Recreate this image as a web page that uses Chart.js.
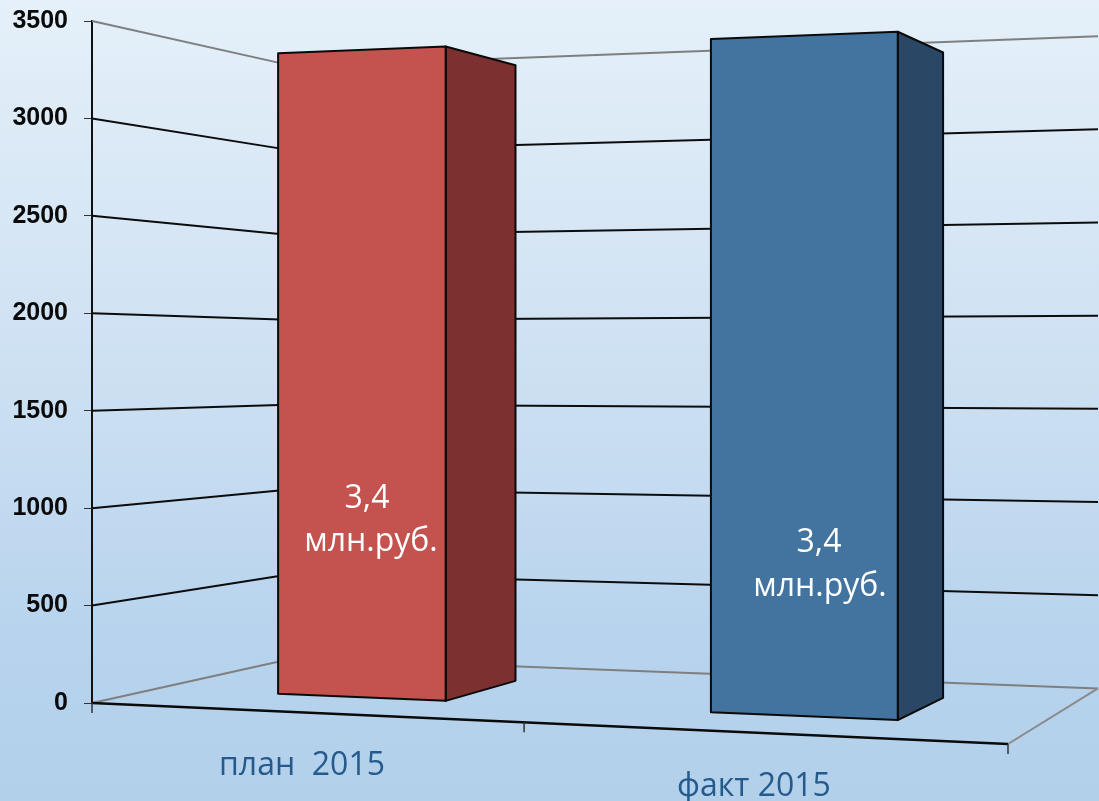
<!DOCTYPE html>
<html>
<head>
<meta charset="utf-8">
<style>html,body{margin:0;padding:0;background:#cfe0f2}canvas{display:block}</style>
<script src="https://cdn.jsdelivr.net/npm/chart.js@4/dist/chart.umd.min.js"></script>
</head>
<body>
<div style="width:1099px;height:801px"><canvas id="c" width="1099" height="801"></canvas></div>
<script>
const categories = ['план  2015', 'факт 2015'];
const barValues = [3380, 3365];
const barLabelTop = ['3,4', '3,4'];
const barLabelBottom = ['млн.руб.', 'млн.руб.'];
const yTicks = [0, 500, 1000, 1500, 2000, 2500, 3000, 3500];

// floor corners in picture space, used to build the perspective projection
const P00 = [92, 703], P10 = [1008, 744], P01 = [295, 658], P11 = [1098, 688.4];
const W_FRONT = 0.29, W_BACK = 0.705;

const dx1 = P10[0]-P11[0], dx2 = P01[0]-P11[0], sx = P00[0]-P10[0]+P11[0]-P01[0];
const dy1 = P10[1]-P11[1], dy2 = P01[1]-P11[1], sy = P00[1]-P10[1]+P11[1]-P01[1];
const den = dx1*dy2-dx2*dy1;
const g = (sx*dy2-dx2*sy)/den, h = (dx1*sy-sx*dy1)/den;
const a = P10[0]-P00[0]+g*P10[0], b = P01[0]-P00[0]+h*P01[0];
const d = P10[1]-P00[1]+g*P10[1], e = P01[1]-P00[1]+h*P01[1];

function project(chart, u, value, w){
  const y = chart.scales.y;
  const D = 1+g*u+h*w;
  const lift = y.getPixelForValue(value)-y.getPixelForValue(0);
  return [(a*u+b*w+P00[0])/D, (d*u+e*w+P00[1]+lift)/D];
}
function seg(ctx,p,q,color,lw){
  ctx.beginPath();ctx.moveTo(p[0],p[1]);ctx.lineTo(q[0],q[1]);
  ctx.strokeStyle=color;ctx.lineWidth=lw;ctx.stroke();
}
function quad(ctx,pts,fill){
  ctx.beginPath();pts.forEach((p,i)=>i?ctx.lineTo(p[0],p[1]):ctx.moveTo(p[0],p[1]));ctx.closePath();
  ctx.fillStyle=fill;ctx.fill();
  ctx.strokeStyle='#0a0a0a';ctx.lineWidth=2;ctx.lineJoin='round';ctx.stroke();
}
const faceFront = ['#c4524e', '#42749f'];
const faceSide = ['#7c3130', '#2a4865'];
const labelFont = '"Open Sans", sans-serif';

const scene = {
  id:'scene',
  beforeDraw(chart){
    const {ctx,width,height}=chart;
    const gr=ctx.createLinearGradient(0,0,0,height);
    gr.addColorStop(0,'#e5f0f9');gr.addColorStop(0.5,'#cbdff2');gr.addColorStop(0.8,'#b7d3ed');gr.addColorStop(1,'#b3d0eb');
    ctx.save();ctx.fillStyle=gr;ctx.fillRect(0,0,width,height);ctx.restore();
  },
  beforeDatasetsDraw(chart){
    const ctx=chart.ctx;ctx.save();
    const last=yTicks[yTicks.length-1];
    yTicks.forEach(v=>{
      const edge=(v===0||v===last);
      const col=edge?'#7f7f7f':'#0c0c0c', lw=2;
      seg(ctx,project(chart,0,v,0),project(chart,0,v,1),col,lw);
      seg(ctx,project(chart,0,v,1),project(chart,1,v,1),col,lw);
    });
    seg(ctx,project(chart,1,0,0),project(chart,1,0,1),'#8a8a8a',2);
    seg(ctx,project(chart,0,0,0),project(chart,1,0,0),'#0a0a0a',2.5);
    [0,0.5,1].forEach(u=>{
      const p=project(chart,u,0,0);
      seg(ctx,[p[0],p[1]],[p[0],p[1]+10],'#333',1.5);
    });
    ctx.restore();
  },
  beforeDatasetDraw(chart,args){
    const ctx=chart.ctx, xs=chart.scales.x, span=P10[0]-P00[0];
    ctx.save();
    chart.getDatasetMeta(args.index).data.forEach((el,i)=>{
      const v=barValues[i];
      const u0=(el.x-el.width/2-xs.left)/span, u1=(el.x+el.width/2-xs.left)/span;
      const fb0=project(chart,u0,0,W_FRONT), fb1=project(chart,u1,0,W_FRONT);
      const ft0=project(chart,u0,v,W_FRONT), ft1=project(chart,u1,v,W_FRONT);
      const bb1=project(chart,u1,0,W_BACK), bt1=project(chart,u1,v,W_BACK);
      quad(ctx,[ft1,bt1,bb1,fb1],faceSide[i]);
      quad(ctx,[ft0,ft1,fb1,fb0],faceFront[i]);
    });
    ctx.restore();
    return false;
  },
  afterDatasetsDraw(chart){
    const ctx=chart.ctx;ctx.save();
    ctx.textAlign='center';ctx.textBaseline='middle';
    ctx.fillStyle='#ffffff';ctx.font='32px '+labelFont;
    const tx=[[367,371],[819,820]], ty=[[499,542],[543,587]];
    barLabelTop.forEach((t,i)=>ctx.fillText(t,tx[i][0],ty[i][0]));
    barLabelBottom.forEach((t,i)=>ctx.fillText(t,tx[i][1],ty[i][1]));
    ctx.fillStyle='#245a8c';
    ctx.fillText(categories[0],302,766);
    ctx.fillText(categories[1],754,787);
    ctx.restore();
  }
};

new Chart(document.getElementById('c'),{
  type:'bar',
  data:{labels:categories,datasets:[{data:barValues,backgroundColor:faceFront,barPercentage:0.8,categoryPercentage:0.5}]},
  plugins:[scene],
  options:{
    responsive:false,animation:false,
    layout:{autoPadding:false,padding:{left:0,right:85,top:0,bottom:98}},
    plugins:{legend:{display:false},tooltip:{enabled:false}},
    scales:{
      x:{display:false,offset:true},
      y:{
        min:0,max:3500,
        afterFit(s){s.width=92;},
        border:{display:true,color:'#111',width:2},
        grid:{drawOnChartArea:false,drawTicks:true,tickLength:8,color:'#333'},
        ticks:{stepSize:500,padding:16,color:'#0a0a0a',callback:v=>String(v),font:{family:'"Liberation Sans", Arial, sans-serif',weight:'bold',size:25,lineHeight:0.4}}
      }
    }
  }
});
</script>
</body>
</html>
